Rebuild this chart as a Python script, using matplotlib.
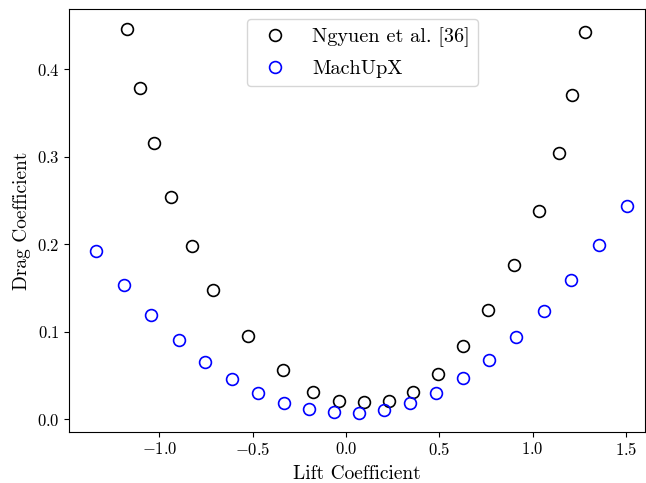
import matplotlib
matplotlib.use("Agg")
import matplotlib.pyplot as plt

plt.rcParams["font.family"] = "serif"
plt.rcParams["font.serif"] = ["cmr10"]
plt.rcParams["mathtext.fontset"] = "cm"
plt.rcParams["axes.formatter.use_mathtext"] = True

# Reference data (Ngyuen et al.)
ref_cl = [-1.173, -1.105, -1.030, -0.939, -0.825, -0.711, -0.525, -0.339, -0.175,
          -0.039, 0.098, 0.229, 0.357, 0.491, 0.628, 0.761, 0.900, 1.035, 1.139,
          1.210, 1.279]
ref_cd = [0.446, 0.378, 0.315, 0.254, 0.1975, 0.1474, 0.0949, 0.0557, 0.0312,
          0.0206, 0.0194, 0.0206, 0.0312, 0.0518, 0.0834, 0.1242, 0.1763, 0.2381,
          0.304, 0.3703, 0.4423]

# MachUpX results
mux_cl = [-1.339, -1.191, -1.043, -0.896, -0.754, -0.612, -0.471, -0.334, -0.200,
          -0.066, 0.067, 0.205, 0.341, 0.482, 0.625, 0.766, 0.911, 1.059, 1.207,
          1.357, 1.507]
mux_cd = [0.192, 0.153, 0.119, 0.090, 0.065, 0.0454, 0.0297, 0.0183, 0.0111,
          0.0077, 0.0072, 0.0099, 0.0179, 0.030, 0.0469, 0.0678, 0.0934, 0.1238,
          0.1585, 0.1989, 0.2434]

fig = plt.figure(figsize=(6.46, 4.83), dpi=100)
ax = fig.add_axes([69.3 / 646, 1 - 431.7 / 483, (645 - 69.3) / 646, (431.7 - 9) / 483])

ax.plot(ref_cl, ref_cd, linestyle="none", marker="o", ms=8.5, mfc="none",
        mec="black", mew=1.2, label="Ngyuen et al. [36]")
ax.plot(mux_cl, mux_cd, linestyle="none", marker="o", ms=8.5, mfc="none",
        mec="blue", mew=1.2, label="MachUpX")

ax.set_xlim(-1.482, 1.601)
ax.set_ylim(-0.0145, 0.4686)
ax.set_xticks([-1.0, -0.5, 0.0, 0.5, 1.0, 1.5])
ax.set_yticks([0.0, 0.1, 0.2, 0.3, 0.4])
ax.tick_params(labelsize=12)
ax.set_xlabel("Lift Coefficient", fontsize=14, labelpad=5)
ax.set_ylabel("Drag Coefficient", fontsize=14)
ax.legend(loc="upper center", bbox_to_anchor=(0.509, 1.0),
          fontsize=14.6, labelspacing=0.62)

fig.savefig("out.png", dpi=100)
